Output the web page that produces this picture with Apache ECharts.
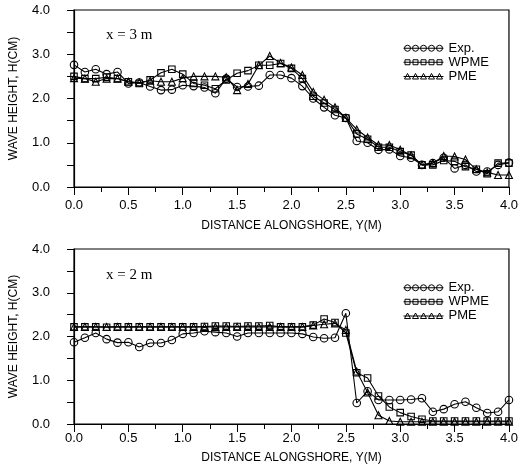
<!DOCTYPE html>
<html>
<head>
<meta charset="utf-8">
<script src="https://cdn.jsdelivr.net/npm/echarts@6/dist/echarts.min.js"></script>
<style>
  html, body { margin: 0; padding: 0; background: #fff; }
  #chart { width: 521px; height: 471px; }
</style>
</head>
<body>
<div id="chart"></div>
<script>
// Alongshore positions of the gauges, Y (m)
const alongshore = [0.0, 0.1, 0.2, 0.3, 0.4, 0.5, 0.6, 0.7, 0.8, 0.9,
  1.0, 1.1, 1.2, 1.3, 1.4, 1.5, 1.6, 1.7, 1.8, 1.9,
  2.0, 2.1, 2.2, 2.3, 2.4, 2.5, 2.6, 2.7, 2.8, 2.9,
  3.0, 3.1, 3.2, 3.3, 3.4, 3.5, 3.6, 3.7, 3.8, 3.9, 4.0];

// Wave height H (cm) along the section x = 3 m
const exp3 = [2.76, 2.60, 2.66, 2.55, 2.60, 2.34, 2.36, 2.27, 2.19, 2.20,
  2.30, 2.28, 2.25, 2.12, 2.45, 2.26, 2.27, 2.29, 2.53, 2.53,
  2.46, 2.28, 2.00, 1.80, 1.62, 1.56, 1.04, 1.00, 0.84, 0.85,
  0.70, 0.66, 0.50, 0.54, 0.66, 0.42, 0.50, 0.35, 0.35, 0.50, 0.55];
const wpme3 = [2.50, 2.45, 2.45, 2.48, 2.45, 2.38, 2.34, 2.42, 2.58, 2.66,
  2.55, 2.34, 2.30, 2.22, 2.42, 2.57, 2.63, 2.75, 2.75, 2.79,
  2.68, 2.45, 2.05, 1.90, 1.75, 1.56, 1.20, 1.08, 0.90, 0.90,
  0.80, 0.72, 0.50, 0.50, 0.60, 0.58, 0.46, 0.40, 0.30, 0.54, 0.54];
const pme3 = [2.46, 2.45, 2.38, 2.45, 2.45, 2.38, 2.36, 2.40, 2.38, 2.38,
  2.46, 2.50, 2.50, 2.50, 2.48, 2.19, 2.33, 2.75, 2.96, 2.80,
  2.70, 2.53, 2.15, 1.97, 1.80, 1.56, 1.30, 1.12, 0.95, 0.95,
  0.84, 0.72, 0.50, 0.54, 0.70, 0.69, 0.62, 0.40, 0.33, 0.27, 0.27];

// Wave height H (cm) along the section x = 2 m
const exp2 = [1.87, 1.97, 2.08, 1.94, 1.86, 1.87, 1.76, 1.85, 1.85, 1.92,
  2.06, 2.08, 2.12, 2.10, 2.08, 2.00, 2.08, 2.08, 2.08, 2.08,
  2.08, 2.06, 1.99, 1.96, 1.97, 2.53, 0.48, 0.75, 0.55, 0.55,
  0.55, 0.56, 0.59, 0.28, 0.34, 0.45, 0.51, 0.37, 0.25, 0.28, 0.55];
const wpme2 = [2.22, 2.22, 2.22, 2.21, 2.22, 2.22, 2.22, 2.22, 2.22, 2.22,
  2.22, 2.22, 2.23, 2.24, 2.24, 2.23, 2.24, 2.24, 2.25, 2.22,
  2.22, 2.22, 2.26, 2.40, 2.32, 2.08, 1.17, 1.05, 0.64, 0.39,
  0.26, 0.17, 0.11, 0.07, 0.07, 0.07, 0.07, 0.07, 0.07, 0.07, 0.07];
const pme2 = [2.22, 2.22, 2.22, 2.22, 2.22, 2.22, 2.22, 2.22, 2.22, 2.22,
  2.22, 2.22, 2.22, 2.22, 2.22, 2.22, 2.22, 2.22, 2.22, 2.22,
  2.22, 2.22, 2.25, 2.28, 2.30, 2.15, 1.20, 0.72, 0.20, 0.07,
  0.05, 0.05, 0.05, 0.05, 0.05, 0.05, 0.05, 0.05, 0.05, 0.05, 0.05];

const xTicks = ['0.0', '0.5', '1.0', '1.5', '2.0', '2.5', '3.0', '3.5', '4.0'];
const yTicks = ['0.0', '1.0', '2.0', '3.0', '4.0'];
const seriesNames = ['Exp.', 'WPME', 'PME'];

const FONT = 'Liberation Sans, Arial, sans-serif';
const INK = '#000';

// Legend keys: five hollow markers strung on a line
function strip(shape) {
  let d = 'path://M0,4L40,4';
  for (let k = 0; k < 5; k++) {
    const c = 4 + 8 * k;
    if (shape === 'circle') {
      d += `M${c + 3},4A3,3,0,1,1,${c - 3},4A3,3,0,1,1,${c + 3},4`;
    } else if (shape === 'rect') {
      d += `M${c - 2.5},1.5L${c + 2.5},1.5L${c + 2.5},6.5L${c - 2.5},6.5Z`;
    } else {
      d += `M${c},1L${c + 3},6.5L${c - 3},6.5Z`;
    }
  }
  return d;
}
const shapes = ['circle', 'rect', 'triangle'];
const symbolSizes = [7.5, 6.5, 7];

function xAxis(gridIndex, labelMargin, nameGap) {
  return {
    type: 'value', gridIndex, min: 0, max: 4, interval: 0.5,
    name: 'DISTANCE ALONGSHORE, Y(M)', nameLocation: 'middle', nameGap,
    nameTextStyle: { fontFamily: FONT, fontSize: 12, color: INK },
    axisLine: { show: true, onZero: false, lineStyle: { color: INK, width: 1.2 } },
    axisTick: { show: true, length: 8, lineStyle: { color: INK } },
    minorTick: { show: true, splitNumber: 2, length: 5, lineStyle: { color: INK } },
    splitLine: { show: false },
    axisLabel: {
      fontFamily: FONT, fontSize: 13, color: INK, margin: labelMargin,
      formatter: v => xTicks[Math.round(v / 0.5)]
    }
  };
}
function yAxis(gridIndex) {
  return {
    type: 'value', gridIndex, min: 0, max: 4, interval: 1,
    name: 'WAVE HEIGHT, H(CM)', nameLocation: 'middle', nameGap: 54,
    nameTextStyle: { fontFamily: FONT, fontSize: 12, color: INK },
    axisLine: { show: true, onZero: false, lineStyle: { color: INK, width: 1.2 } },
    axisTick: { show: true, length: 7, lineStyle: { color: INK } },
    minorTick: { show: true, splitNumber: 2, length: 7, lineStyle: { color: INK } },
    splitLine: { show: false },
    axisLabel: {
      fontFamily: FONT, fontSize: 13, color: INK, margin: 24,
      formatter: v => yTicks[Math.round(v)]
    }
  };
}
function legend(top) {
  return {
    orient: 'vertical', left: 403, top, padding: 0,
    itemWidth: 40, itemHeight: 8, itemGap: 0.5, itemTextGap: 9,
    selectedMode: false,
    textStyle: { fontFamily: FONT, fontSize: 13, lineHeight: 13.5, color: INK },
    data: seriesNames.map((n, i) => ({
      name: n, icon: strip(shapes[i]),
      itemStyle: { color: 'rgba(0,0,0,0)', borderColor: INK, borderWidth: 1 }
    }))
  };
}
function lineSeries(name, values, shapeIdx, gridIdx) {
  return {
    type: 'line', name, xAxisIndex: gridIdx, yAxisIndex: gridIdx,
    data: alongshore.map((y, i) => [y, values[i]]),
    symbol: shapes[shapeIdx], symbolSize: symbolSizes[shapeIdx],
    showAllSymbol: true,
    lineStyle: { color: INK, width: 1.1 },
    itemStyle: { color: 'rgba(0,0,0,0)', borderColor: INK, borderWidth: 1.1 },
    emphasis: { disabled: true },
    z: 3 - shapeIdx
  };
}

const chart = echarts.init(document.getElementById('chart'), null, { renderer: 'canvas' });
chart.setOption({
  animation: false,
  backgroundColor: '#fff',
  title: [
    { text: 'x = 3 m', left: 101, top: 23,
      textStyle: { fontFamily: 'Liberation Serif, Times New Roman, serif', fontSize: 15, fontWeight: 'normal', color: INK } },
    { text: 'x = 2 m', left: 101, top: 263,
      textStyle: { fontFamily: 'Liberation Serif, Times New Roman, serif', fontSize: 15, fontWeight: 'normal', color: INK } }
  ],
  grid: [
    { left: 68, top: 10, width: 445, height: 177, show: true, borderColor: INK, borderWidth: 1.2, backgroundColor: 'rgba(0,0,0,0)' },
    { left: 68, top: 249, width: 445, height: 175, show: true, borderColor: INK, borderWidth: 1.2, backgroundColor: 'rgba(0,0,0,0)' }
  ],
  legend: [legend(41.5), legend(281)],
  xAxis: [xAxis(0, 12, 33), xAxis(1, 8, 28)],
  yAxis: [yAxis(0), yAxis(1)],
  series: [
    lineSeries('Exp.', exp3, 0, 0),
    lineSeries('WPME', wpme3, 1, 0),
    lineSeries('PME', pme3, 2, 0),
    lineSeries('Exp.', exp2, 0, 1),
    lineSeries('WPME', wpme2, 1, 1),
    lineSeries('PME', pme2, 2, 1)
  ]
});
</script>
</body>
</html>
